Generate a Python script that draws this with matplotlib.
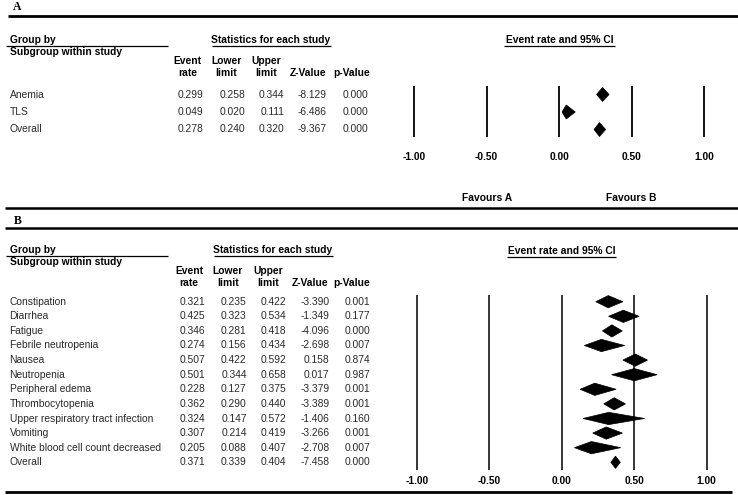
"""Two-panel forest plot (event rates with 95% CI) in CMA style."""

import matplotlib
import matplotlib.pyplot as plt
from matplotlib.patches import Polygon

matplotlib.use("Agg")
plt.rcParams["font.family"] = ["Liberation Sans", "DejaVu Sans"]

# Panel A data
a_labels = ["Anemia", "TLS", "Overall"]
a_rate = [0.299, 0.049, 0.278]
a_lower = [0.258, 0.020, 0.240]
a_upper = [0.344, 0.111, 0.320]
a_z = ["-8.129", "-6.486", "-9.367"]
a_p = ["0.000", "0.000", "0.000"]

# Panel B data
b_labels = [
    "Constipation", "Diarrhea", "Fatigue", "Febrile neutropenia", "Nausea",
    "Neutropenia", "Peripheral edema", "Thrombocytopenia",
    "Upper respiratory tract infection", "Vomiting",
    "White blood cell count decreased", "Overall",
]
b_rate = [0.321, 0.425, 0.346, 0.274, 0.507, 0.501, 0.228, 0.362, 0.324, 0.307, 0.205, 0.371]
b_lower = [0.235, 0.323, 0.281, 0.156, 0.422, 0.344, 0.127, 0.290, 0.147, 0.214, 0.088, 0.339]
b_upper = [0.422, 0.534, 0.418, 0.434, 0.592, 0.658, 0.375, 0.440, 0.572, 0.419, 0.407, 0.404]
b_z = ["-3.390", "-1.349", "-4.096", "-2.698", "0.158", "0.017", "-3.379",
       "-3.389", "-1.406", "-3.266", "-2.708", "-7.458"]
b_p = ["0.001", "0.177", "0.000", "0.007", "0.874", "0.987", "0.001",
       "0.001", "0.160", "0.001", "0.007", "0.000"]

ticks = [-1.0, -0.5, 0.0, 0.5, 1.0]
tick_labels = ["-1.00", "-0.50", "0.00", "0.50", "1.00"]

W, H = 738, 495
FS = 7.4
BODY = "#2a2a2a"

fig = plt.figure(figsize=(W / 100, H / 100), dpi=100)

# background axes in pixel units for the table text and rules
bg = fig.add_axes([0, 0, 1, 1])
bg.set_xlim(0, W)
bg.set_ylim(H, 0)
bg.axis("off")


def hline(y, x0, x1, lw):
    bg.plot([x0, x1], [y, y], color="black", lw=lw, solid_capstyle="butt")


def table(y_head, y_rows, labels, cols, col_right, head_center, shift):
    # section headers
    bg.text(10, y_head, "Group by", fontsize=FS, fontweight="bold", va="center")
    hline(y_head + 6, 6, 168, 0.9)
    bg.text(10, y_head + 12, "Subgroup within study", fontsize=FS,
            fontweight="bold", va="center")
    bg.text(273 + shift, y_head, "Statistics for each study", fontsize=FS,
            fontweight="bold", va="center", ha="center")
    hline(y_head + 6, 214 + shift, 333 + shift, 0.9)
    # column headers
    heads = [("Event", "rate"), ("Lower", "limit"), ("Upper", "limit"),
             (None, "Z-Value"), (None, "p-Value")]
    for (top, bot), xc in zip(heads, head_center):
        if top:
            bg.text(xc, y_head + 20.5, top, fontsize=FS, fontweight="bold",
                    va="center", ha="center")
        bg.text(xc, y_head + 32.5, bot, fontsize=FS, fontweight="bold",
                va="center", ha="center")
    # body rows
    for i, lab in enumerate(labels):
        y = y_rows[i]
        bg.text(9.5, y, lab, fontsize=FS, va="center", color=BODY)
        for col, xr in zip(cols, col_right):
            bg.text(xr, y, col[i], fontsize=FS, va="center", ha="right",
                    color=BODY)


def forest(rect, rate, lower, upper, ylim, half_h, lw, pad):
    ax = fig.add_axes(rect)
    ax.set_xlim(-1.1, 1.1)
    ax.set_ylim(*ylim)
    for t in ticks:
        ax.axvline(t, color="black", lw=lw)
    for i, (r, lo, up) in enumerate(zip(rate, lower, upper)):
        ax.add_patch(Polygon([(lo, i), (r, i - half_h), (up, i), (r, i + half_h)],
                             closed=True, facecolor="black", edgecolor="black",
                             lw=0.5))
    ax.set_xticks(ticks)
    ax.set_xticklabels(tick_labels, fontsize=FS, fontweight="bold")
    ax.tick_params(axis="x", length=0, pad=pad)
    ax.set_yticks([])
    for s in ax.spines.values():
        s.set_visible(False)
    ax.patch.set_alpha(0)
    return ax


def fig_rect(x0, x1, y_top, y_bot):
    return [x0 / W, 1 - y_bot / H, (x1 - x0) / W, (y_bot - y_top) / H]


# ---- Panel A ----
bg.text(12.5, 7, "A", fontsize=8.5, fontweight="bold", va="center",
        family=["Liberation Serif", "DejaVu Serif"])
hline(16.3, 8, W, 2.0)
a_rows = [94.5, 112, 129.5]
table(40, a_rows, a_labels,
      [[f"{v:.3f}" for v in a_rate], [f"{v:.3f}" for v in a_lower],
       [f"{v:.3f}" for v in a_upper], a_z, a_p],
      [203.5, 245, 284.5, 327, 368.5],
      [187.5, 226.5, 266, 308.5, 351.5], -2)
bg.text(559.7, 40, "Event rate and 95% CI", fontsize=FS, fontweight="bold",
        va="center", ha="center")
hline(46, 504, 615, 0.9)

# x: -1.00 at 414 px, 1.00 at 704.3 px
xa0 = 414 - 0.1 * (704.3 - 414) / 2
xa1 = 704.3 + 0.1 * (704.3 - 414) / 2
forest(fig_rect(xa0, xa1, 85.7, 136.7), a_rate, a_lower, a_upper,
       (2.41, -0.5), 0.4, 1.3, 11)

# ---- Panel B ----
bg.text(486.7, 198, "Favours A", fontsize=FS, fontweight="bold",
        va="center", ha="center")
bg.text(631.7, 198, "Favours B", fontsize=FS, fontweight="bold",
        va="center", ha="center")
hline(207.7, 5, W, 1.8)
bg.text(13.5, 221.5, "B", fontsize=8.5, fontweight="bold", va="center",
        family=["Liberation Serif", "DejaVu Serif"])
hline(227.7, 5, W, 1.8)
b_rows = [301.7 + 14.6 * i for i in range(len(b_labels))]
table(250, b_rows, b_labels,
      [[f"{v:.3f}" for v in b_rate], [f"{v:.3f}" for v in b_lower],
       [f"{v:.3f}" for v in b_upper], b_z, b_p],
      [205, 246.7, 286, 329.3, 370.3],
      [189, 228, 268, 310.5, 351.5], 0)
bg.text(561.7, 250.5, "Event rate and 95% CI", fontsize=FS, fontweight="bold",
        va="center", ha="center")
hline(256.5, 507, 616, 0.9)

xb0 = 416.7 - 0.1 * (706.7 - 416.7) / 2
xb1 = 706.7 + 0.1 * (706.7 - 416.7) / 2
forest(fig_rect(xb0, xb1, 295, 470), b_rate, b_lower, b_upper,
       (11.53, -0.46), 0.42, 1.1, 4)

hline(492.3, 5, 731.7, 2.0)

fig.savefig("out.png", dpi=100, facecolor="white")
plt.close(fig)
